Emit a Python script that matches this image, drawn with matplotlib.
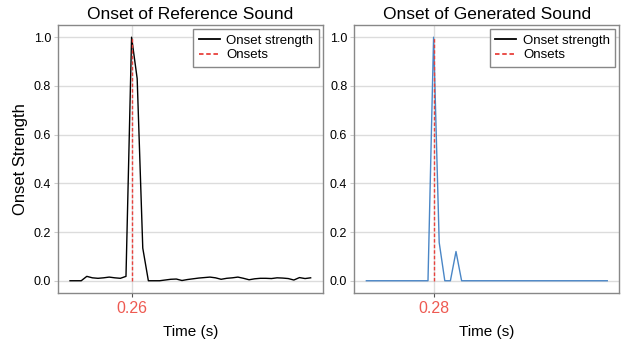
import numpy as np
import matplotlib
matplotlib.use("Agg")
import matplotlib.pyplot as plt
from matplotlib.lines import Line2D

plt.rcParams['font.family'] = ['Liberation Sans', 'DejaVu Sans']

# frame times (hop 512 @ 22050 Hz), 44 frames
hop_s = 512 / 22050
n_frames = 44

# onset envelope, reference sound
ref_env = [0.0, 0.0, 0.0, 0.018, 0.012, 0.010, 0.012, 0.015, 0.012, 0.010,
           0.018, 1.0, 0.83, 0.134, 0.0, 0.0, 0.0, 0.003, 0.006, 0.007,
           0.001, 0.005, 0.008, 0.011, 0.013, 0.015, 0.012, 0.006, 0.010, 0.012,
           0.015, 0.010, 0.004, 0.008, 0.010, 0.010, 0.009, 0.012, 0.011, 0.009,
           0.003, 0.013, 0.009, 0.012]
# onset envelope, generated sound
gen_env = [0.0] * 11 + [0.0, 1.0, 0.157, 0.0, 0.0, 0.12, 0.0] + [0.0] * 26
gen_env = gen_env[:n_frames]

ref_onset_frame = 11
gen_onset_frame = 12

titles = ['Onset of Reference Sound', 'Onset of Generated Sound']
colors = ['black', '#4a86c6']

times = np.arange(n_frames) * hop_s

fig = plt.figure(figsize=(6.29, 3.43), dpi=100)
ax1 = fig.add_axes([0.0922, 0.146, 0.4208, 0.781])
ax2 = fig.add_axes([0.5633, 0.146, 0.4213, 0.781])

for ax, env, onset, title, col in zip([ax1, ax2], [ref_env, gen_env],
                                      [ref_onset_frame, gen_onset_frame],
                                      titles, colors):
    t_on = times[onset]
    ax.plot(times, env, color=col, lw=1.0)
    ax.vlines(t_on, 0, max(env), color='#e8413c', linestyles=(0, (2.5, 1.5)), lw=1.0)
    ax.set_xticks([t_on])
    ax.set_xticklabels([f'{t_on:.2f}'], color='#ee5a52', fontsize=11.5)
    ax.set_yticks([0.0, 0.2, 0.4, 0.6, 0.8, 1.0])
    ax.set_yticklabels(['0.0', '0.2', '0.4', '0.6', '0.8', '1.0'], fontsize=9)
    ax.grid(True, color='#dcdcdc', lw=1.0)
    ax.set_axisbelow(True)
    ax.tick_params(axis='y', length=3, color='#cccccc', pad=2)
    ax.tick_params(axis='x', length=3, color='#555555', pad=3)
    for s in ax.spines.values():
        s.set_color('#888888')
        s.set_linewidth(1.0)
    ax.set_title(title, fontsize=12.5, pad=4)
    ax.set_xlabel('Time (s)', fontsize=11, labelpad=6)
    handles = [Line2D([0], [0], color='black', lw=1.3),
               Line2D([0], [0], color='#e8413c', lw=1.3, linestyle=(0, (2.5, 1.5)))]
    ax.legend(handles, ['Onset strength', 'Onsets'], loc='upper right',
              fontsize=9.5, fancybox=False, edgecolor='#888888', framealpha=1,
              borderpad=0.4, labelspacing=0.2, handlelength=1.6,
              handletextpad=0.5, borderaxespad=0.3)

ax1.set_ylabel('Onset Strength', fontsize=12)

fig.savefig('out.png', dpi=100)
